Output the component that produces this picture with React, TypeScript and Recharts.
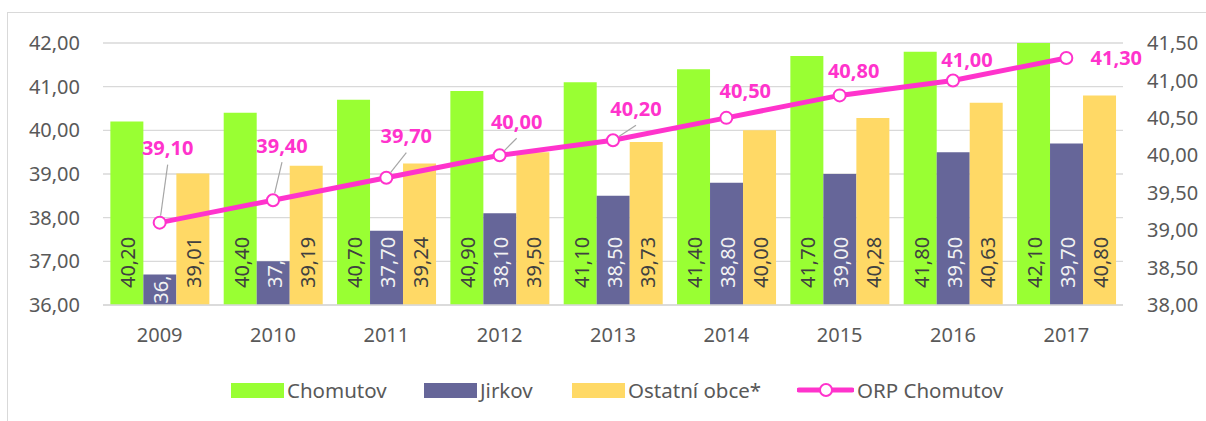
import React from 'react'
import { ComposedChart, Bar, Line, XAxis, YAxis, CartesianGrid, LabelList } from 'recharts'

const years = ['2009', '2010', '2011', '2012', '2013', '2014', '2015', '2016', '2017']
const chomutov = [40.2, 40.4, 40.7, 40.9, 41.1, 41.4, 41.7, 41.8, 42.1]
const jirkov = [36.7, 37.0, 37.7, 38.1, 38.5, 38.8, 39.0, 39.5, 39.7]
const ostatni = [39.01, 39.19, 39.24, 39.5, 39.73, 40.0, 40.28, 40.63, 40.8]
const orp = [39.1, 39.4, 39.7, 40.0, 40.2, 40.5, 40.8, 41.0, 41.3]

const leftTicks = [36, 37, 38, 39, 40, 41, 42]
const rightTicks = [38, 38.5, 39, 39.5, 40, 40.5, 41, 41.5]

const data = years.map((year, i) => ({
  year,
  chomutov: chomutov[i],
  jirkov: jirkov[i],
  ostatni: ostatni[i],
  orp: orp[i],
}))

// where Excel put each ORP label relative to its point (layout, not data)
const orpLabelLayout = [
  { dx: 8, dy: -75, leader: true },
  { dx: 9, dy: -55, leader: true },
  { dx: 20, dy: -42, leader: true },
  { dx: 17, dy: -34, leader: true },
  { dx: 23, dy: -32, leader: true },
  { dx: 19, dy: -27, leader: false },
  { dx: 14, dy: -25, leader: false },
  { dx: 14, dy: -21, leader: false },
  { dx: 50, dy: 0, leader: false },
]

const GREEN = '#99FF33'
const PURPLE = '#666699'
const YELLOW = '#FFD966'
const PINK = '#FF33CC'
const AXIS_TEXT = '#595959'
const FONT = '"Noto Sans", sans-serif'

function fmt(v: number) {
  return v.toFixed(2).replace('.', ',')
}

function barLabel(color: string) {
  return (props: any) => {
    const vb = props.viewBox ?? props
    const { x, y, width, height } = vb
    const value = Number(props.value)
    let text = fmt(value)
    // Excel drops the decimals when the label doesn't fit in the bar
    if (height < 70) text = text.split(',')[0] + ','
    const textLen = text.length === 3 ? 28 : 51
    const cx = x + width / 2 + 1
    const bottom = y + height
    // short bars: centre the stub in the bar instead of sitting it on the base
    const by = textLen + 17 > height + 2 ? bottom - height / 2 + textLen / 2 : bottom - 17
    return (
      <text
        x={cx}
        y={by}
        transform={`rotate(-90, ${cx}, ${by})`}
        textAnchor="start"
        dominantBaseline="central"
        fill={color}
        fontSize={20}
        fontFamily={FONT}
      >
        {text}
      </text>
    )
  }
}

function orpLabel(props: any) {
  const { x, y, value, index } = props
  const l = orpLabelLayout[index]
  const lx = x + l.dx
  const ly = y + l.dy
  let leader = null
  if (l.leader) {
    const ex = lx
    const ey = ly + 17
    const len = Math.hypot(ex - x, ey - y)
    const sx = x + ((ex - x) / len) * 7
    const sy = y + ((ey - y) / len) * 7
    leader = <line x1={sx} y1={sy} x2={ex} y2={ey} stroke="#A6A6A6" strokeWidth={1.2} />
  }
  return (
    <g>
      {leader}
      <text
        x={lx}
        y={ly}
        textAnchor="middle"
        dominantBaseline="central"
        fill={PINK}
        fontSize={20}
        fontWeight={700}
        fontFamily={FONT}
      >
        {fmt(Number(value))}
      </text>
    </g>
  )
}

const legendItems = [
  { name: 'Chomutov', color: GREEN, line: false, left: 231 },
  { name: 'Jirkov', color: PURPLE, line: false, left: 424 },
  { name: 'Ostatní obce*', color: YELLOW, line: false, left: 572 },
  { name: 'ORP Chomutov', color: PINK, line: true, left: 797 },
]

function ChartLegend() {
  return (
    <div style={{ fontFamily: FONT, fontSize: 20.5, color: AXIS_TEXT, whiteSpace: 'nowrap' }}>
      {legendItems.map((it) => (
        <div
          key={it.name}
          style={{ position: 'absolute', left: it.left, top: 376, height: 28, display: 'flex', alignItems: 'center', gap: 3 }}
        >
          {it.line ? (
            <svg width={57} height={16}>
              <line x1={2} y1={8} x2={55} y2={8} stroke={it.color} strokeWidth={5} strokeLinecap="round" />
              <circle cx={29} cy={8} r={6} fill="#fff" stroke={it.color} strokeWidth={2} />
            </svg>
          ) : (
            <div style={{ width: 53, height: 15, background: it.color }} />
          )}
          <span>{it.name}</span>
        </div>
      ))}
    </div>
  )
}

export default function App() {
  const tick = { fill: AXIS_TEXT, fontSize: 20, fontFamily: FONT }
  return (
    <div style={{ position: 'absolute', left: 0, top: 0, width: 1206, height: 421, background: '#fff', overflow: 'hidden' }}>
      <div style={{ position: 'absolute', left: 7, top: 12, width: 1220, height: 430, border: '1px solid #D9D9D9' }} />
      <ComposedChart
        width={1206}
        height={421}
        data={data}
        margin={{ top: 43, right: 0, left: 0, bottom: 76 }}
        barCategoryGap="6.5%"
        barGap={0}
        style={{ position: 'absolute', left: 0, top: 0 }}
      >
        <CartesianGrid vertical={false} stroke="#D9D9D9" strokeWidth={1.3} yAxisId="left" />
        <XAxis
          dataKey="year"
          tick={tick}
          tickLine={false}
          tickSize={0}
          tickMargin={23}
          height={40}
          axisLine={{ stroke: '#D9D9D9', strokeWidth: 1.3 }}
        />
        <YAxis
          yAxisId="left"
          orientation="left"
          width={103}
          domain={[36, 42]}
          ticks={leftTicks}
          allowDataOverflow
          tick={tick}
          tickLine={false}
          tickSize={0}
          tickMargin={23}
          axisLine={false}
          tickFormatter={(v: number) => fmt(v)}
        />
        <YAxis
          yAxisId="right"
          orientation="right"
          width={83}
          domain={[38, 41.5]}
          ticks={rightTicks}
          tick={tick}
          tickLine={false}
          tickSize={0}
          tickMargin={24}
          axisLine={false}
          tickFormatter={(v: number) => fmt(v)}
        />
        <Bar yAxisId="left" dataKey="chomutov" fill={GREEN} isAnimationActive={false}>
          <LabelList dataKey="chomutov" content={barLabel('#404040')} />
        </Bar>
        <Bar yAxisId="left" dataKey="jirkov" fill={PURPLE} isAnimationActive={false}>
          <LabelList dataKey="jirkov" content={barLabel('#F2F2F2')} />
        </Bar>
        <Bar yAxisId="left" dataKey="ostatni" fill={YELLOW} isAnimationActive={false}>
          <LabelList dataKey="ostatni" content={barLabel('#404040')} />
        </Bar>
        <Line
          yAxisId="right"
          dataKey="orp"
          stroke={PINK}
          strokeWidth={5}
          dot={{ r: 6, fill: '#fff', stroke: PINK, strokeWidth: 2 }}
          isAnimationActive={false}
        >
          <LabelList dataKey="orp" content={orpLabel} />
        </Line>
      </ComposedChart>
      <ChartLegend />
    </div>
  )
}
